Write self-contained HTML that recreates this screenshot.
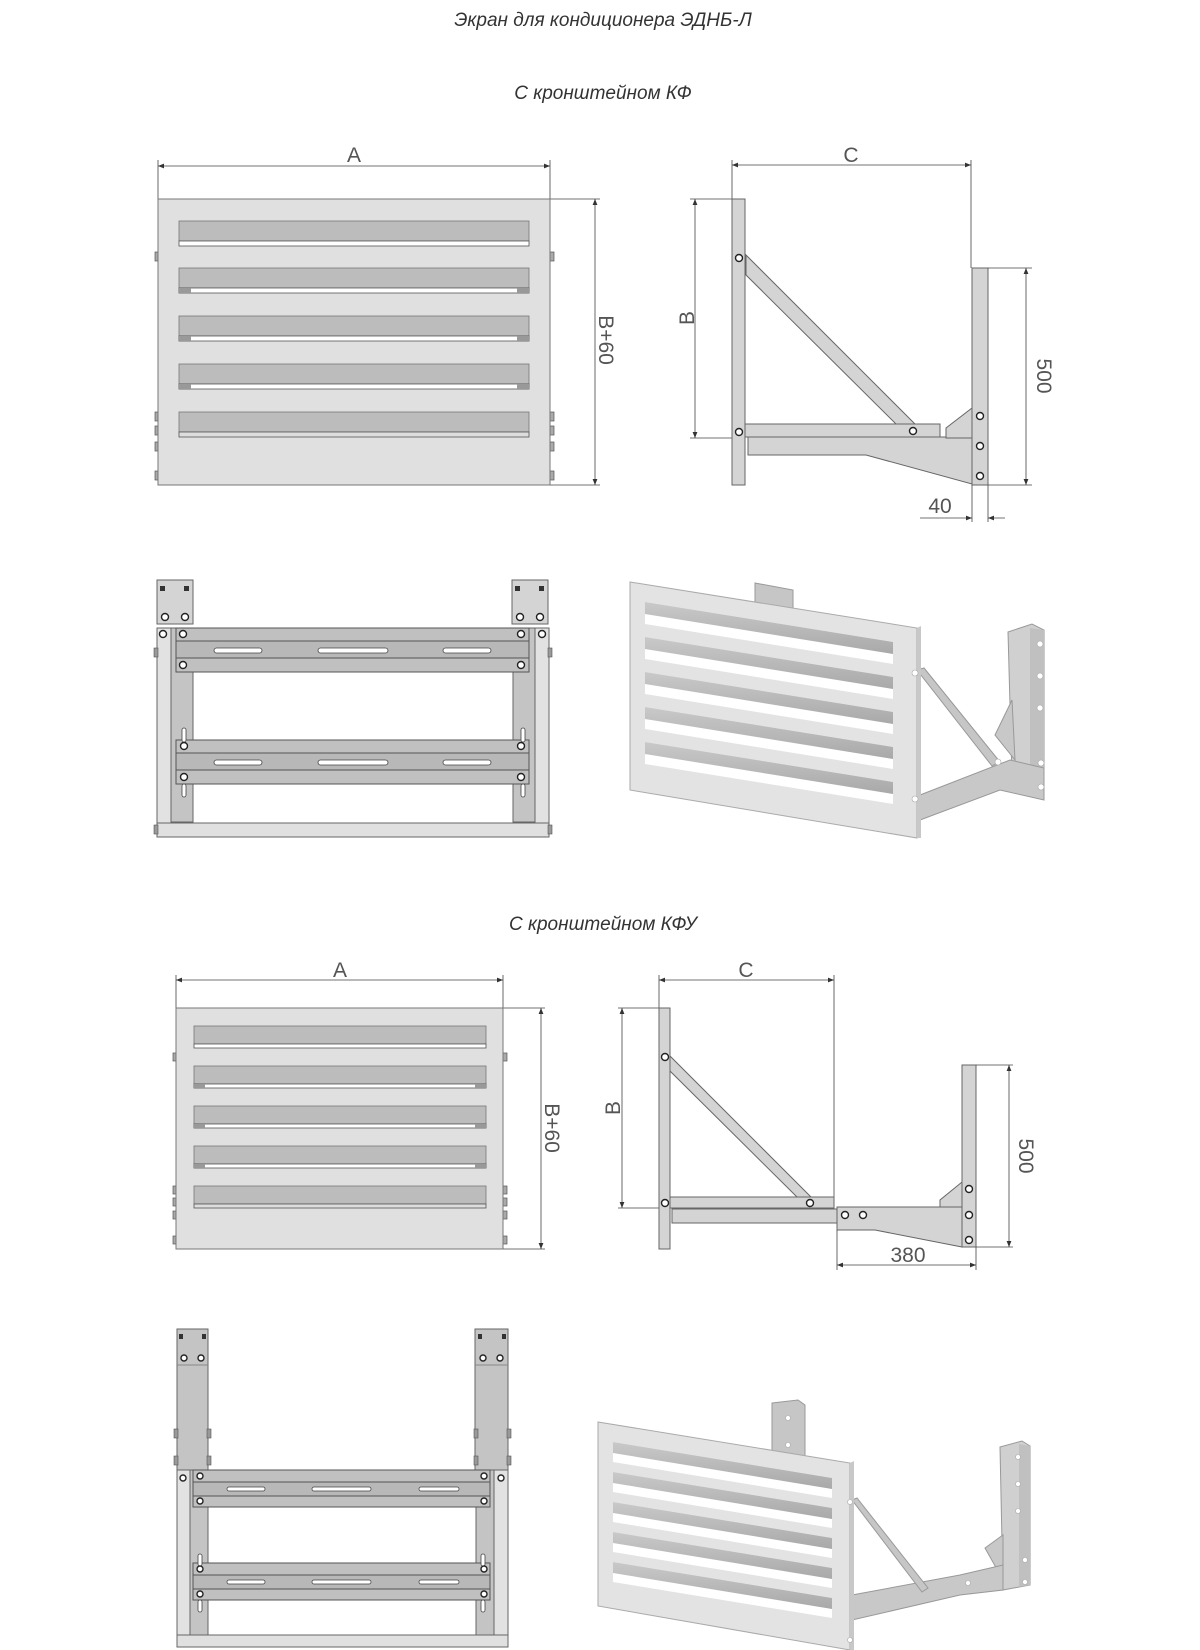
<!DOCTYPE html>
<html><head><meta charset="utf-8"><style>
html,body{margin:0;padding:0;background:#fff;}
svg{display:block;}
.t{font-family:"Liberation Sans",sans-serif;font-style:italic;fill:#333;font-size:19px;}
.d{font-family:"Liberation Sans",sans-serif;fill:#555;font-size:21px;}
.dl{stroke:#444;stroke-width:0.8;fill:none;}
.p{fill:#e0e0e0;stroke:#777;stroke-width:1;}
.g{fill:#d4d4d4;stroke:#666;stroke-width:1;}
.s{fill:#bcbcbc;stroke:#777;stroke-width:0.8;}
.h{fill:#fff;stroke:#222;stroke-width:1.4;}
</style></head><body>
<svg width="1200" height="1650" viewBox="0 0 1200 1650" xmlns="http://www.w3.org/2000/svg">
<defs>
<marker id="a" viewBox="0 0 10 10" refX="10" refY="5" markerWidth="9" markerHeight="6" orient="auto-start-reverse" markerUnits="userSpaceOnUse"><path d="M0,1 L10,5 L0,9 z" fill="#333"/></marker>
<linearGradient id="sg" x1="0" y1="0" x2="0" y2="1"><stop offset="0" stop-color="#c9c9c9"/><stop offset="1" stop-color="#a9a9a9"/></linearGradient>
</defs>

<text class="t" x="603" y="26" text-anchor="middle">Экран для кондиционера ЭДНБ-Л</text>
<text class="t" x="603" y="99" text-anchor="middle">С кронштейном КФ</text>
<text class="t" x="603" y="930" text-anchor="middle">С кронштейном КФУ</text>

<!-- ===== Front panel 1 ===== -->
<line class="dl" x1="158" y1="166" x2="550" y2="166" marker-start="url(#a)" marker-end="url(#a)"/>
<line class="dl" x1="158" y1="160" x2="158" y2="199"/><line class="dl" x1="550" y1="160" x2="550" y2="199"/>
<text class="d" x="354" y="162" text-anchor="middle">A</text>
<line class="dl" x1="550" y1="199" x2="600" y2="199"/><line class="dl" x1="550" y1="485" x2="600" y2="485"/>
<line class="dl" x1="595" y1="199" x2="595" y2="485" marker-start="url(#a)" marker-end="url(#a)"/>
<text class="d" transform="translate(599,340) rotate(90)" text-anchor="middle">B+60</text>
<g fill="#aaa" stroke="#555" stroke-width="0.7">
<rect x="155" y="252" width="4" height="9"/><rect x="550" y="252" width="4" height="9"/>
<rect x="155" y="412" width="4" height="9"/><rect x="550" y="412" width="4" height="9"/>
<rect x="155" y="426" width="4" height="9"/><rect x="550" y="426" width="4" height="9"/>
<rect x="155" y="442" width="4" height="9"/><rect x="550" y="442" width="4" height="9"/>
<rect x="155" y="471" width="4" height="9"/><rect x="550" y="471" width="4" height="9"/>
</g>
<rect class="p" x="158" y="199" width="392" height="286"/>
<g>
<rect class="s" x="179" y="221" width="350" height="20"/><rect x="179" y="241" width="350" height="5" fill="#fff" stroke="#555" stroke-width="0.8"/>
<rect class="s" x="179" y="268" width="350" height="20"/><rect x="179" y="288" width="350" height="5" fill="#fff" stroke="#555" stroke-width="0.8"/>
<rect class="s" x="179" y="316" width="350" height="20"/><rect x="179" y="336" width="350" height="5" fill="#fff" stroke="#555" stroke-width="0.8"/>
<rect class="s" x="179" y="364" width="350" height="20"/><rect x="179" y="384" width="350" height="5" fill="#fff" stroke="#555" stroke-width="0.8"/>
<rect class="s" x="179" y="412" width="350" height="20"/><rect x="179" y="432" width="350" height="5" fill="#ddd" stroke="#555" stroke-width="0.8"/>
<g fill="#999"><rect x="179" y="288" width="12" height="5"/><rect x="517" y="288" width="12" height="5"/><rect x="179" y="336" width="12" height="5"/><rect x="517" y="336" width="12" height="5"/><rect x="179" y="384" width="12" height="5"/><rect x="517" y="384" width="12" height="5"/></g>
</g>

<!-- ===== Side view 1 ===== -->
<line class="dl" x1="732" y1="165" x2="971" y2="165" marker-start="url(#a)" marker-end="url(#a)"/>
<line class="dl" x1="732" y1="160" x2="732" y2="199"/><line class="dl" x1="971" y1="160" x2="971" y2="268"/>
<text class="d" x="851" y="162" text-anchor="middle">C</text>
<line class="dl" x1="690" y1="199" x2="732" y2="199"/><line class="dl" x1="690" y1="438" x2="732" y2="438"/>
<line class="dl" x1="695" y1="199" x2="695" y2="438" marker-start="url(#a)" marker-end="url(#a)"/>
<text class="d" transform="translate(694,318) rotate(-90)" text-anchor="middle">B</text>
<polygon class="g" points="746,255 916,425 897,425 746,275"/>
<rect class="g" x="745" y="424" width="195" height="13"/>
<polygon class="g" points="748,437 972,437 972,484 866,455 748,455"/>
<polygon class="g" points="946,438 946,428 972,408 972,438"/>
<rect class="g" x="732" y="199" width="13" height="286"/>
<rect class="g" x="972" y="268" width="16" height="217"/>
<line class="dl" x1="988" y1="268" x2="1032" y2="268"/><line class="dl" x1="988" y1="485" x2="1032" y2="485"/>
<line class="dl" x1="1026" y1="268" x2="1026" y2="485" marker-start="url(#a)" marker-end="url(#a)"/>
<text class="d" transform="translate(1037,376) rotate(90)" text-anchor="middle">500</text>
<line class="dl" x1="972" y1="485" x2="972" y2="522"/><line class="dl" x1="988" y1="485" x2="988" y2="522"/>
<line class="dl" x1="920" y1="518" x2="972" y2="518" marker-end="url(#a)"/>
<line class="dl" x1="1005" y1="518" x2="988" y2="518" marker-end="url(#a)"/>
<text class="d" x="940" y="513" text-anchor="middle">40</text>
<circle class="h" cx="739" cy="258" r="3.5"/><circle class="h" cx="739" cy="432" r="3.5"/><circle class="h" cx="913" cy="431" r="3.5"/>
<circle class="h" cx="980" cy="416" r="3.5"/><circle class="h" cx="980" cy="446" r="3.5"/><circle class="h" cx="980" cy="476" r="3.5"/>

<!-- ===== Top view 1 ===== -->
<g>
<rect class="g" x="157" y="580" width="36" height="44" fill="#c8c8c8"/>
<rect class="g" x="512" y="580" width="36" height="44" fill="#c8c8c8"/>
<g fill="#333"><rect x="160" y="586" width="5" height="5"/><rect x="184" y="586" width="5" height="5"/><rect x="515" y="586" width="5" height="5"/><rect x="539" y="586" width="5" height="5"/></g>
<circle class="h" cx="165" cy="617" r="3.5"/><circle class="h" cx="185" cy="617" r="3.5"/><circle class="h" cx="520" cy="617" r="3.5"/><circle class="h" cx="540" cy="617" r="3.5"/>
<rect x="157" y="628" width="14" height="195" fill="#e2e2e2" stroke="#666"/>
<rect x="171" y="628" width="22" height="194" fill="#c4c4c4" stroke="#666"/>
<rect x="513" y="628" width="22" height="194" fill="#c4c4c4" stroke="#666"/>
<rect x="535" y="628" width="14" height="195" fill="#e2e2e2" stroke="#666"/>
<circle class="h" cx="163" cy="634" r="3.5"/><circle class="h" cx="542" cy="634" r="3.5"/>
<rect x="176" y="628" width="353" height="13" fill="#c0c0c0" stroke="#555"/>
<rect x="176" y="641" width="353" height="17" fill="#b8b8b8" stroke="#555"/>
<rect x="176" y="658" width="353" height="14" fill="#c0c0c0" stroke="#555"/>
<rect x="176" y="740" width="353" height="13" fill="#c0c0c0" stroke="#555"/>
<rect x="176" y="753" width="353" height="17" fill="#b8b8b8" stroke="#555"/>
<rect x="176" y="770" width="353" height="14" fill="#c0c0c0" stroke="#555"/>
<g fill="#fff" stroke="#444" stroke-width="0.8">
<rect x="214" y="648" width="48" height="5" rx="2.5"/><rect x="318" y="648" width="70" height="5" rx="2.5"/><rect x="443" y="648" width="48" height="5" rx="2.5"/>
<rect x="214" y="760" width="48" height="5" rx="2.5"/><rect x="318" y="760" width="70" height="5" rx="2.5"/><rect x="443" y="760" width="48" height="5" rx="2.5"/>
<rect x="182" y="728" width="4" height="14" rx="2"/><rect x="521" y="728" width="4" height="14" rx="2"/>
<rect x="182" y="784" width="4" height="13" rx="2"/><rect x="521" y="784" width="4" height="13" rx="2"/>
</g>
<circle class="h" cx="183" cy="634" r="3.5"/><circle class="h" cx="521" cy="634" r="3.5"/><circle class="h" cx="183" cy="665" r="3.5"/><circle class="h" cx="521" cy="665" r="3.5"/>
<circle class="h" cx="184" cy="746" r="3.5"/><circle class="h" cx="521" cy="746" r="3.5"/><circle class="h" cx="184" cy="777" r="3.5"/><circle class="h" cx="521" cy="777" r="3.5"/>
<rect x="157" y="823" width="392" height="14" fill="#e0e0e0" stroke="#666"/>
<g fill="#999" stroke="#555" stroke-width="0.6"><rect x="154" y="825" width="4" height="9"/><rect x="548" y="825" width="4" height="9"/><rect x="154" y="648" width="4" height="9"/><rect x="548" y="648" width="4" height="9"/></g>
</g>

<!-- ===== 3D view 1 ===== -->
<g>
<polygon points="755,583 793,590 793,760 755,760" fill="#c6c6c6" stroke="#999"/>
<polygon points="1008,632 1032,624 1044,630 1044,772 1012,778" fill="#d0d0d0" stroke="#999"/>
<polygon points="1030,628 1044,630 1044,772 1030,775" fill="#c0c0c0"/>
<polygon points="920,795 1010,760 1044,768 1044,800 1000,790 920,820" fill="#c8c8c8" stroke="#999"/>
<polygon points="995,735 1012,700 1015,760" fill="#c8c8c8" stroke="#999"/>
<polygon points="917,670 924,668 1000,762 992,766" fill="#c6c6c6" stroke="#999"/>
<polygon points="640,760 920,790 920,800 640,770" fill="#bbb"/>
<polygon points="630,582 917,628 917,838 630,790" fill="#e3e3e3" stroke="#aaa"/>
<polygon points="917,628 921,626 921,838 917,838" fill="#c8c8c8"/>
<g>
<polygon points="645,602 893,642 893,664 645,624" fill="#fff"/><polygon points="645,602 893,642 893,654 645,614" fill="url(#sg)"/>
<polygon points="645,637 893,677 893,699 645,659" fill="#fff"/><polygon points="645,637 893,677 893,689 645,649" fill="url(#sg)"/>
<polygon points="645,672 893,712 893,734 645,694" fill="#fff"/><polygon points="645,672 893,712 893,724 645,684" fill="url(#sg)"/>
<polygon points="645,707 893,747 893,769 645,729" fill="#fff"/><polygon points="645,707 893,747 893,759 645,719" fill="url(#sg)"/>
<polygon points="645,742 893,782 893,804 645,764" fill="#fff"/><polygon points="645,742 893,782 893,794 645,754" fill="url(#sg)"/>
</g>
<g fill="#fff" stroke="#aaa" stroke-width="0.6"><circle cx="915" cy="673" r="3"/><circle cx="915" cy="799" r="3"/><circle cx="1040" cy="644" r="3"/><circle cx="1040" cy="676" r="3"/><circle cx="1040" cy="708" r="3"/><circle cx="1041" cy="763" r="3"/><circle cx="1041" cy="787" r="3"/><circle cx="998" cy="762" r="3"/></g>
</g>

<!-- ===== Front panel 2 ===== -->
<line class="dl" x1="176" y1="980" x2="503" y2="980" marker-start="url(#a)" marker-end="url(#a)"/>
<line class="dl" x1="176" y1="975" x2="176" y2="1008"/><line class="dl" x1="503" y1="975" x2="503" y2="1008"/>
<text class="d" x="340" y="977" text-anchor="middle">A</text>
<line class="dl" x1="503" y1="1008" x2="545" y2="1008"/><line class="dl" x1="503" y1="1249" x2="545" y2="1249"/>
<line class="dl" x1="541" y1="1008" x2="541" y2="1249" marker-start="url(#a)" marker-end="url(#a)"/>
<text class="d" transform="translate(545,1128) rotate(90)" text-anchor="middle">B+60</text>
<g fill="#aaa" stroke="#555" stroke-width="0.7">
<rect x="173" y="1053" width="4" height="8"/><rect x="503" y="1053" width="4" height="8"/>
<rect x="173" y="1186" width="4" height="8"/><rect x="503" y="1186" width="4" height="8"/>
<rect x="173" y="1198" width="4" height="8"/><rect x="503" y="1198" width="4" height="8"/>
<rect x="173" y="1211" width="4" height="8"/><rect x="503" y="1211" width="4" height="8"/>
<rect x="173" y="1236" width="4" height="8"/><rect x="503" y="1236" width="4" height="8"/>
</g>
<rect class="p" x="176" y="1008" width="327" height="241"/>
<rect class="s" x="194" y="1026" width="292" height="18"/><rect x="194" y="1044" width="292" height="4" fill="#fff" stroke="#555" stroke-width="0.8"/>
<rect class="s" x="194" y="1066" width="292" height="18"/><rect x="194" y="1084" width="292" height="4" fill="#fff" stroke="#555" stroke-width="0.8"/>
<rect class="s" x="194" y="1106" width="292" height="18"/><rect x="194" y="1124" width="292" height="4" fill="#fff" stroke="#555" stroke-width="0.8"/>
<rect class="s" x="194" y="1146" width="292" height="18"/><rect x="194" y="1164" width="292" height="4" fill="#fff" stroke="#555" stroke-width="0.8"/>
<rect class="s" x="194" y="1186" width="292" height="18"/><rect x="194" y="1204" width="292" height="4" fill="#ddd" stroke="#555" stroke-width="0.8"/>
<g fill="#999"><rect x="194" y="1084" width="11" height="4"/><rect x="475" y="1084" width="11" height="4"/><rect x="194" y="1124" width="11" height="4"/><rect x="475" y="1124" width="11" height="4"/><rect x="194" y="1164" width="11" height="4"/><rect x="475" y="1164" width="11" height="4"/></g>

<!-- ===== Side view 2 ===== -->
<line class="dl" x1="659" y1="980" x2="834" y2="980" marker-start="url(#a)" marker-end="url(#a)"/>
<line class="dl" x1="659" y1="975" x2="659" y2="1008"/><line class="dl" x1="834" y1="975" x2="834" y2="1198"/>
<text class="d" x="746" y="977" text-anchor="middle">C</text>
<line class="dl" x1="618" y1="1008" x2="659" y2="1008"/><line class="dl" x1="618" y1="1208" x2="659" y2="1208"/>
<line class="dl" x1="622" y1="1008" x2="622" y2="1208" marker-start="url(#a)" marker-end="url(#a)"/>
<text class="d" transform="translate(620,1108) rotate(-90)" text-anchor="middle">B</text>
<polygon class="g" points="670,1056 813,1199 799,1199 670,1071"/>
<rect class="g" x="670" y="1197" width="164" height="11"/>
<rect class="g" x="672" y="1209" width="165" height="14"/>
<polygon class="g" points="837,1207 962,1207 962,1247 875,1230 837,1230"/>
<polygon class="g" points="940,1207 940,1200 962,1182 962,1207"/>
<rect class="g" x="659" y="1008" width="11" height="241"/>
<rect class="g" x="962" y="1065" width="14" height="182"/>
<line class="dl" x1="976" y1="1065" x2="1013" y2="1065"/><line class="dl" x1="976" y1="1247" x2="1013" y2="1247"/>
<line class="dl" x1="1009" y1="1065" x2="1009" y2="1247" marker-start="url(#a)" marker-end="url(#a)"/>
<text class="d" transform="translate(1019,1156) rotate(90)" text-anchor="middle">500</text>
<line class="dl" x1="837" y1="1230" x2="837" y2="1270"/><line class="dl" x1="976" y1="1247" x2="976" y2="1270"/>
<line class="dl" x1="837" y1="1265" x2="976" y2="1265" marker-start="url(#a)" marker-end="url(#a)"/>
<text class="d" x="908" y="1262" text-anchor="middle">380</text>
<circle class="h" cx="665" cy="1057" r="3.5"/><circle class="h" cx="665" cy="1203" r="3.5"/><circle class="h" cx="810" cy="1203" r="3.5"/>
<circle class="h" cx="845" cy="1215" r="3.5"/><circle class="h" cx="863" cy="1215" r="3.5"/>
<circle class="h" cx="969" cy="1189" r="3.5"/><circle class="h" cx="969" cy="1215" r="3.5"/><circle class="h" cx="969" cy="1240" r="3.5"/>

<!-- ===== Top view 2 ===== -->
<g>
<rect x="177" y="1329" width="31" height="141" fill="#c4c4c4" stroke="#666"/>
<rect x="475" y="1329" width="33" height="141" fill="#c4c4c4" stroke="#666"/>
<line x1="177" y1="1365" x2="208" y2="1365" stroke="#888"/><line x1="475" y1="1365" x2="508" y2="1365" stroke="#888"/>
<g fill="#333"><rect x="179" y="1334" width="4" height="5"/><rect x="202" y="1334" width="4" height="5"/><rect x="478" y="1334" width="4" height="5"/><rect x="502" y="1334" width="4" height="5"/></g>
<circle class="h" cx="184" cy="1358" r="3"/><circle class="h" cx="201" cy="1358" r="3"/><circle class="h" cx="483" cy="1358" r="3"/><circle class="h" cx="500" cy="1358" r="3"/>
<g fill="#999" stroke="#555" stroke-width="0.6"><rect x="174" y="1429" width="4" height="9"/><rect x="207" y="1429" width="4" height="9"/><rect x="474" y="1429" width="4" height="9"/><rect x="507" y="1429" width="4" height="9"/><rect x="174" y="1456" width="4" height="9"/><rect x="207" y="1456" width="4" height="9"/><rect x="474" y="1456" width="4" height="9"/><rect x="507" y="1456" width="4" height="9"/></g>
<rect x="177" y="1470" width="13" height="165" fill="#e2e2e2" stroke="#666"/>
<rect x="190" y="1470" width="18" height="165" fill="#c4c4c4" stroke="#666"/>
<rect x="476" y="1470" width="18" height="165" fill="#c4c4c4" stroke="#666"/>
<rect x="494" y="1470" width="14" height="165" fill="#e2e2e2" stroke="#666"/>
<circle class="h" cx="183" cy="1478" r="3"/><circle class="h" cx="501" cy="1478" r="3"/>
<rect x="193" y="1470" width="297" height="12" fill="#c0c0c0" stroke="#555"/>
<rect x="193" y="1482" width="297" height="14" fill="#b8b8b8" stroke="#555"/>
<rect x="193" y="1496" width="297" height="11" fill="#c0c0c0" stroke="#555"/>
<rect x="193" y="1563" width="297" height="12" fill="#c0c0c0" stroke="#555"/>
<rect x="193" y="1575" width="297" height="14" fill="#b8b8b8" stroke="#555"/>
<rect x="193" y="1589" width="297" height="11" fill="#c0c0c0" stroke="#555"/>
<g fill="#fff" stroke="#444" stroke-width="0.8">
<rect x="227" y="1487" width="38" height="4" rx="2"/><rect x="312" y="1487" width="59" height="4" rx="2"/><rect x="419" y="1487" width="40" height="4" rx="2"/>
<rect x="227" y="1580" width="38" height="4" rx="2"/><rect x="312" y="1580" width="59" height="4" rx="2"/><rect x="419" y="1580" width="40" height="4" rx="2"/>
<rect x="198" y="1554" width="4" height="12" rx="2"/><rect x="481" y="1554" width="4" height="12" rx="2"/>
<rect x="198" y="1600" width="4" height="12" rx="2"/><rect x="481" y="1600" width="4" height="12" rx="2"/>
</g>
<circle class="h" cx="200" cy="1476" r="3"/><circle class="h" cx="484" cy="1476" r="3"/><circle class="h" cx="200" cy="1501" r="3"/><circle class="h" cx="484" cy="1501" r="3"/>
<circle class="h" cx="200" cy="1569" r="3"/><circle class="h" cx="484" cy="1569" r="3"/><circle class="h" cx="200" cy="1594" r="3"/><circle class="h" cx="484" cy="1594" r="3"/>
<rect x="177" y="1635" width="331" height="12" fill="#e0e0e0" stroke="#666"/>
</g>

<!-- ===== 3D view 2 ===== -->
<g>
<polygon points="772,1403 798,1400 805,1405 805,1500 772,1500" fill="#c6c6c6" stroke="#999"/>
<polygon points="1000,1447 1022,1441 1030,1446 1030,1585 1003,1590" fill="#d0d0d0" stroke="#999"/>
<polygon points="1019,1444 1030,1446 1030,1585 1019,1587" fill="#c0c0c0"/>
<polygon points="985,1548 1003,1535 1003,1580" fill="#c8c8c8" stroke="#999"/>
<polygon points="852,1595 960,1575 1003,1565 1003,1590 960,1595 852,1620" fill="#c8c8c8" stroke="#999"/>
<polygon points="852,1500 857,1498 928,1588 922,1592" fill="#c6c6c6" stroke="#999"/>
<polygon points="608,1600 852,1625 852,1632 608,1608" fill="#bbb"/>
<polygon points="598,1422 850,1463 850,1650 598,1606" fill="#e3e3e3" stroke="#aaa"/>
<polygon points="850,1463 854,1461 854,1650 850,1650" fill="#c8c8c8"/>
<g>
<polygon points="613,1442 832,1478 832,1498 613,1462" fill="#fff"/><polygon points="613,1442 832,1478 832,1489 613,1453" fill="url(#sg)"/>
<polygon points="613,1472 832,1508 832,1528 613,1492" fill="#fff"/><polygon points="613,1472 832,1508 832,1519 613,1483" fill="url(#sg)"/>
<polygon points="613,1502 832,1538 832,1558 613,1522" fill="#fff"/><polygon points="613,1502 832,1538 832,1549 613,1513" fill="url(#sg)"/>
<polygon points="613,1532 832,1568 832,1588 613,1552" fill="#fff"/><polygon points="613,1532 832,1568 832,1579 613,1543" fill="url(#sg)"/>
<polygon points="613,1562 832,1598 832,1618 613,1582" fill="#fff"/><polygon points="613,1562 832,1598 832,1609 613,1573" fill="url(#sg)"/>
</g>
<g fill="#fff" stroke="#aaa" stroke-width="0.6"><circle cx="850" cy="1502" r="2.5"/><circle cx="850" cy="1640" r="2.5"/><circle cx="1018" cy="1457" r="2.5"/><circle cx="1018" cy="1484" r="2.5"/><circle cx="1018" cy="1511" r="2.5"/><circle cx="1025" cy="1560" r="2.5"/><circle cx="1025" cy="1582" r="2.5"/><circle cx="968" cy="1583" r="2.5"/></g>
<g fill="#fff" stroke="#aaa" stroke-width="0.6"><circle cx="788" cy="1418" r="2.5"/><circle cx="788" cy="1445" r="2.5"/></g>
</g>
</svg>
</body></html>
